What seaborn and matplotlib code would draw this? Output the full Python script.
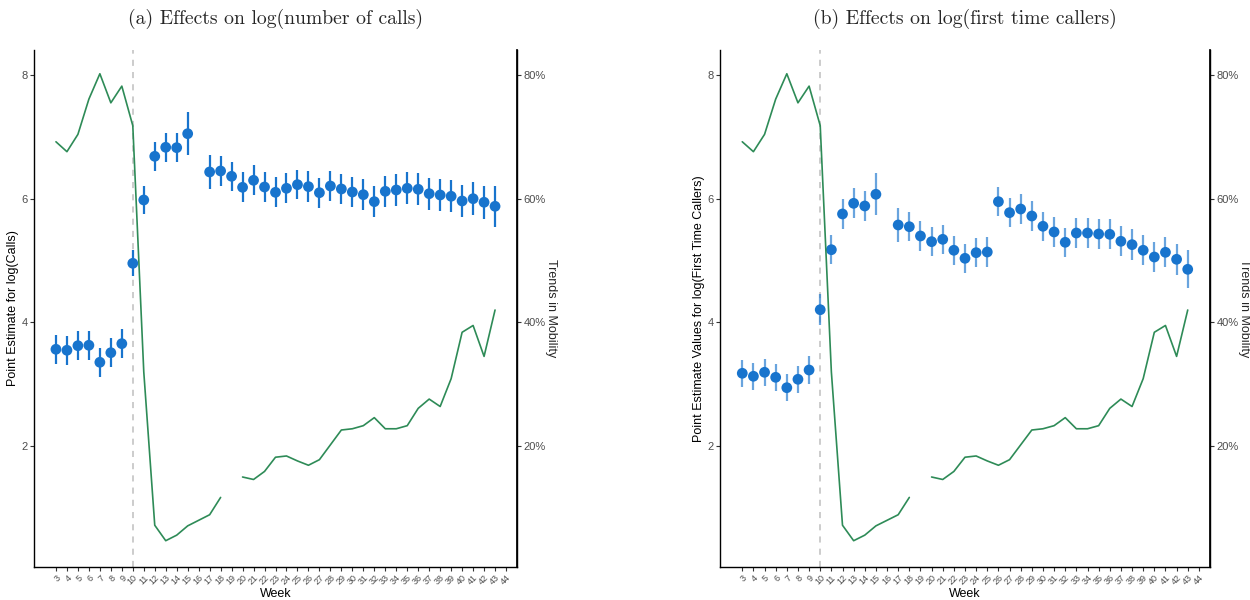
import numpy as np
import pandas as pd
import matplotlib
matplotlib.use("Agg")
import matplotlib.pyplot as plt
import seaborn as sns
from matplotlib.ticker import FuncFormatter

# ---------------- data ----------------
weeks = list(range(3, 44))  # data weeks 3..43
tick_weeks = list(range(3, 45))

calls_est = [3.565, 3.549, 3.623, 3.630, 3.355, 3.510, 3.656, 4.955, 5.979, 6.685,
             6.831, 6.825, 7.051, np.nan, 6.432, 6.448, 6.362, 6.184, 6.297, 6.189,
             6.103, 6.168, 6.227, 6.195, 6.097, 6.205, 6.157, 6.108, 6.065, 5.952,
             6.119, 6.141, 6.168, 6.152, 6.081, 6.060, 6.039, 5.963, 6.000, 5.942, 5.877]
calls_ci = [0.23, 0.235, 0.235, 0.235, 0.23, 0.235, 0.235, 0.21, 0.23, 0.23,
            0.235, 0.235, 0.35, np.nan, 0.278, 0.237, 0.237, 0.243, 0.243, 0.243,
            0.243, 0.243, 0.24, 0.245, 0.245, 0.245, 0.248, 0.248, 0.25, 0.25,
            0.25, 0.253, 0.256, 0.259, 0.259, 0.259, 0.26, 0.26, 0.264, 0.264, 0.33]

first_est = [3.177, 3.129, 3.193, 3.112, 2.944, 3.080, 3.230, 4.205, 5.175, 5.753,
             5.925, 5.882, 6.071, np.nan, 5.575, 5.547, 5.397, 5.305, 5.343, 5.166,
             5.036, 5.127, 5.138, 5.952, 5.774, 5.833, 5.720, 5.554, 5.462, 5.295,
             5.445, 5.445, 5.429, 5.424, 5.311, 5.257, 5.166, 5.057, 5.133, 5.020, 4.858]
first_ci = [0.22, 0.22, 0.22, 0.22, 0.22, 0.22, 0.225, 0.25, 0.237, 0.24,
            0.24, 0.24, 0.34, np.nan, 0.27, 0.237, 0.237, 0.237, 0.237, 0.237,
            0.237, 0.237, 0.237, 0.237, 0.237, 0.237, 0.237, 0.237, 0.237, 0.237,
            0.24, 0.24, 0.24, 0.245, 0.243, 0.245, 0.245, 0.245, 0.245, 0.248, 0.31]

mobility_pct = [69.2, 67.6, 70.4, 76.1, 80.2, 75.5, 78.2, 71.8, 32.0, 7.2,
                4.7, 5.6, 7.1, 8.0, 8.9, 11.7, np.nan, 15.0, 14.6, 15.9,
                18.2, 18.4, 17.6, 16.9, 17.8, 20.2, 22.6, 22.8, 23.3, 24.6,
                22.8, 22.8, 23.3, 26.1, 27.6, 26.4, 30.9, 38.4, 39.5, 34.5, 42.0]

policy_week = 10

titles = ["(a) Effects on log(number of calls)", "(b) Effects on log(first time callers)"]
ylabels = ["Point Estimate for log(Calls)", "Point Estimate Values for log(First Time Callers)"]
panels = [(calls_est, calls_ci, 1.0), (first_est, first_ci, 0.65)]

# ---------------- style ----------------
sns.set_theme(style="white")
plt.rcParams['font.family'] = ['Liberation Sans', 'DejaVu Sans']

BLUE = "#1874CD"
GREEN = "#2E8B57"
TICKC = "#4D4D4D"

fig = plt.figure(figsize=(12.5, 6), dpi=100)
axes = [fig.add_axes([34 / 1250, 1 - 567 / 600, 483 / 1250, 517 / 600]),
        fig.add_axes([720 / 1250, 1 - 567 / 600, 490 / 1250, 517 / 600])]

mob = pd.DataFrame({"week": weeks, "mob": np.array(mobility_pct) / 10.0})
mob["seg"] = mob["mob"].isna().cumsum()
mob = mob.dropna()

for ax, (est, ci, ealpha), title, ylab in zip(axes, panels, titles, ylabels):
    df = pd.DataFrame({"week": weeks, "est": est, "ci": ci}).dropna()
    ax.axvline(policy_week, color="#BEBEBE", linestyle=(0, (4, 4)), linewidth=1.1, zorder=1)
    ax.errorbar(df["week"], df["est"], yerr=df["ci"], fmt="none", ecolor=BLUE,
                elinewidth=1.6, alpha=ealpha, zorder=2)
    sns.scatterplot(data=df, x="week", y="est", color=BLUE, s=60, edgecolor="none",
                    ax=ax, zorder=3)
    sns.lineplot(data=mob, x="week", y="mob", units="seg", estimator=None,
                 color=GREEN, linewidth=1.2, ax=ax, zorder=4)

    ax.set_xlim(1, 45)
    ax.set_ylim(0.045, 8.404)
    ax.set_yticks([2, 4, 6, 8])
    ax.set_xticks(tick_weeks)
    ax.set_xticklabels([str(w) for w in tick_weeks], rotation=45, ha="right",
                       rotation_mode="anchor", fontsize=6.5, color=TICKC)
    ax.tick_params(axis="y", labelsize=8, labelcolor=TICKC)
    ax.tick_params(axis="both", which="major", direction="out", length=3, width=0.8,
                   color="#333333", left=True, bottom=True, pad=1.5)
    ax.set_xlabel("Week", fontsize=9, color="black", labelpad=1)
    ax.set_ylabel(ylab, fontsize=9, color="black", labelpad=2)
    ax.spines["top"].set_visible(False)
    for side in ["left", "right", "bottom"]:
        ax.spines[side].set_visible(True)
        ax.spines[side].set_color("black")
        ax.spines[side].set_linewidth(1.0)
    ax.grid(False)

    sec = ax.secondary_yaxis("right", functions=(lambda y: y * 10, lambda y: y / 10))
    sec.set_yticks([20, 40, 60, 80])
    sec.yaxis.set_major_formatter(FuncFormatter(lambda v, p: f"{v:.0f}%"))
    sec.tick_params(axis="y", labelsize=8, labelcolor=TICKC, direction="out", length=3,
                    width=0.8, color="#333333", pad=1.5)
    sec.spines["right"].set_color("black")
    sec.set_ylabel("Trends in Mobility", fontsize=9, rotation=270, labelpad=8)

    ax.set_title(title, fontfamily="cmr10", fontsize=14.2, pad=19)

fig.savefig("out.png", dpi=100)
